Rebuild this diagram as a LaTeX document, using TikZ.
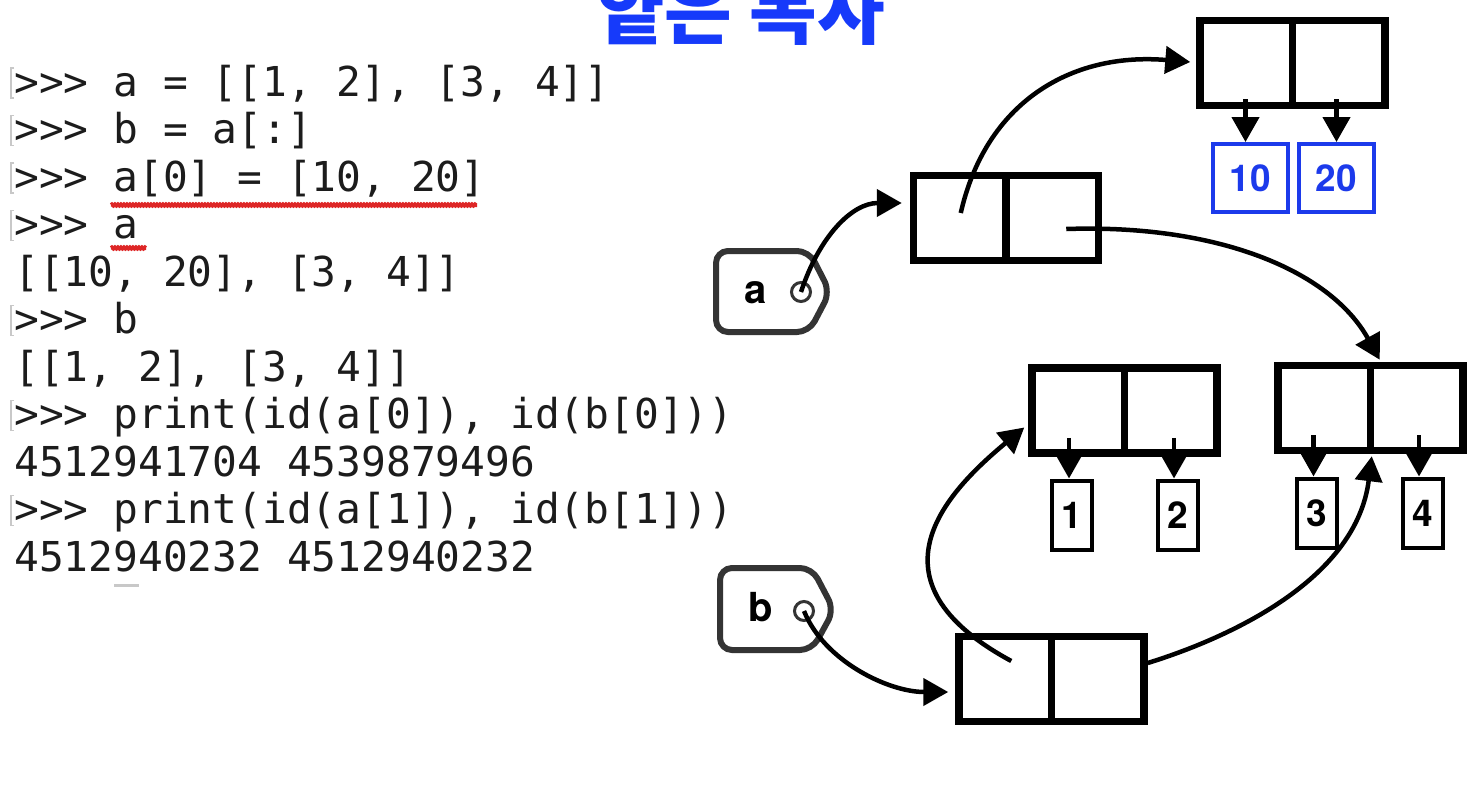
\documentclass[tikz,border=0pt]{standalone}
\usepackage{fontspec}
\setmainfont{TeX Gyre Heros}
\newfontfamily\codefont{DejaVu Sans Mono}
\newfontfamily\krfont{Noto Sans CJK KR}
\usetikzlibrary{arrows.meta,decorations.pathmorphing,calc}
\definecolor{kblue}{RGB}{22,58,250}
\definecolor{vblue}{RGB}{28,58,235}
\definecolor{tagc}{RGB}{52,52,52}
\definecolor{codec}{RGB}{28,28,28}
\definecolor{wavy}{RGB}{222,38,38}
\definecolor{markc}{RGB}{200,200,200}
\begin{document}
\begin{tikzpicture}[x=1pt,y=-1pt,
  cell/.style={draw=black, line width=7.5pt, minimum width=92.5pt, minimum height=85pt, inner sep=0pt},
  bval/.style={draw=vblue, line width=4pt, minimum width=75pt, minimum height=68pt, inner sep=0pt,
    text=vblue, font=\bfseries\fontsize{37}{37}\selectfont},
  kval/.style={draw=black, line width=4pt, minimum width=40pt, minimum height=69pt, inner sep=0pt,
    font=\bfseries\fontsize{37}{37}\selectfont},
  darr/.style={line width=4.5pt, -{Triangle[length=25pt,width=27pt]}},
  tagshape/.style={draw=tagc, line width=6pt, rounded corners=12pt},
  taglab/.style={inner sep=0pt, font=\bfseries\fontsize{40}{40}\selectfont},
  hole/.style={circle, draw=tagc, line width=3pt, minimum size=19pt, inner sep=0pt},
  code/.style={anchor=base west, inner sep=0pt, text=codec, font=\codefont\fontsize{41.2}{41.2}\selectfont},
  promptmark/.style={draw=markc, line width=1.2pt},
  squiggle/.style={draw=wavy, line width=4pt, decorate, decoration={snake, amplitude=0.6pt, segment length=3pt}}
]
\fill[white] (0,0) rectangle (1478,808);
\useasboundingbox (0,0) rectangle (1478,808);

% title (cut off at the top)
\node[anchor=base, inner sep=0pt, text=kblue, font=\krfont\bfseries\fontsize{73.5}{73.5}\selectfont] (title) at (741,39) {얕은 복사};

% code
\node[code] (c1) at (14,96) {>>> a = [[1, 2], [3, 4]]};
\node[code] (c2) at (14,143.5) {>>> b = a[:]};
\node[code] (c3) at (14,191) {>>> a[0] = [10, 20]};
\node[code] (c4) at (14,238.5) {>>> a};
\node[code] (c5) at (14,286) {[[10, 20], [3, 4]]};
\node[code] (c6) at (14,333.5) {>>> b};
\node[code] (c7) at (14,381) {[[1, 2], [3, 4]]};
\node[code] (c8) at (14,428.5) {>>> print(id(a[0]), id(b[0]))};
\node[code] (c9) at (14,476) {4512941704 4539879496};
\node[code] (c10) at (14,523.5) {>>> print(id(a[1]), id(b[1]))};
\node[code] (c11) at (14,571) {4512940232 4512940232};

\foreach \b in {96,143.5,191,238.5,333.5,428.5,523.5}{
  \draw[promptmark] (14,\b-28) -- (11,\b-28) -- (11,\b+2) -- (14,\b+2);
}
\draw[squiggle] (111,205) -- (477,205);
\draw[squiggle] (111,248) -- (146,248);
\draw[draw=markc, line width=3pt] (114,585) -- (139,585);

% lists
\node[cell] (L1a) at (1246.25,63) {};
\node[cell] (L1b) at (1338.75,63) {};
\node[cell] (L2a) at (959.75,218) {};
\node[cell] (L2b) at (1052.25,218) {};
\node[cell] (L3a) at (1078.25,410.5) {};
\node[cell] (L3b) at (1170.75,410.5) {};
\node[cell] (L4a) at (1324.25,408) {};
\node[cell] (L4b) at (1416.75,408) {};
\node[cell] (L5a) at (1005.25,679) {};
\node[cell] (L5b) at (1097.75,679) {};

% values
\node[bval] (v10) at (1250.5,178) {10};
\node[bval] (v20) at (1336.5,178) {20};
\node[kval] (v1) at (1072,515) {1};
\node[kval] (v2) at (1178,515) {2};
\node[kval] (v3) at (1316.5,513) {3};
\node[kval] (v4) at (1423,513) {4};

\draw[darr] ($(v10.north |- L1a.south)+(-5,-10)$) -- ($(v10.north)+(-5,0)$);
\draw[darr] ($(v20.north |- L1b.south)+(0,-10)$) -- (v20.north);
\draw[darr] ($(v1.north |- L3a.south)+(-3,-19)$) -- ($(v1.north)+(-3,0)$);
\draw[darr] ($(v2.north |- L3b.south)+(-4,-19)$) -- ($(v2.north)+(-4,0)$);
\draw[darr] ($(v3.north |- L4a.south)+(-3,-19)$) -- ($(v3.north)+(-3,0)$);
\draw[darr] ($(v4.north |- L4b.south)+(-4,-19)$) -- ($(v4.north)+(-4,0)$);

% tags
\draw[tagshape] (716,251) -- (809,251) -- (830,292) -- (809,332) -- (716,332) -- cycle;
\node[taglab] (ta) at (755.5,293) {a};
\node[hole] (ca) at (801,292) {};
\draw[tagshape] (720,568) -- (812,568) -- (834,610) -- (812,650) -- (720,650) -- cycle;
\node[taglab] (tb) at (761,607.5) {b};
\node[hole] (cb) at (804,611) {};

% references
\coordinate (s2) at ($(L2a.center)+(1,-5)$);
\coordinate (s3) at ($(L2b.center)+(14,11)$);
\coordinate (s5) at ($(L5a.center)+(6,-18)$);
\coordinate (s6) at ($(L5b.east)+(0,-16)$);

\draw[darr] (ca.center) .. controls +(18,-55) and +(-50,0) .. ($(L2a.west)+(-8,-15)$);
\draw[darr] (s2) .. controls +(25,-110) and +(-120,-10) .. ($(L1a.west)+(-6,-1)$);
\draw[darr] (s3) .. controls +(150,-5) and +(-50,-90) .. ($(L4b.north)+(-37,-2)$);
\draw[darr] (cb.center) .. controls +(20,50) and +(-60,0) .. ($(L5a.west)+(-7,13)$);
\draw[darr] (s5) .. controls +(-150,-81) and +(-77,64) .. ($(L3a.west)+(-4,17)$);
\draw[darr] (s6) .. controls +(90,-28) and +(-15,120) .. ($(L4b.south)+(-45,2)$);
\end{tikzpicture}
\end{document}
